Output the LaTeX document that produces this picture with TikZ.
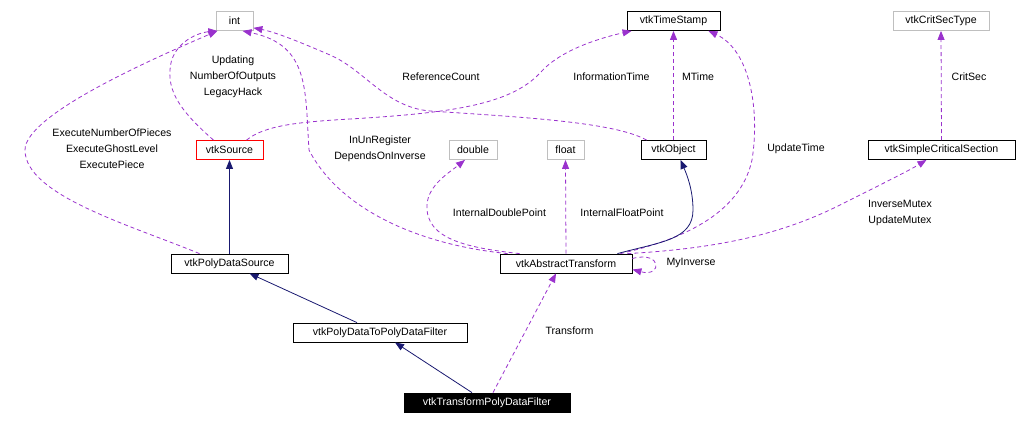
\documentclass[tikz,border=0pt]{standalone}
\usepackage{fontspec}
\setmainfont{Liberation Sans}
\usetikzlibrary{arrows.meta,positioning}
\definecolor{relpurple}{HTML}{9A32CD}
\definecolor{inhnavy}{HTML}{191970}
\definecolor{extgray}{HTML}{BFBFBF}
\begin{document}
\begin{tikzpicture}[x=1pt,y=-1pt,
  cls/.style={draw=black,line width=0.8pt,minimum height=19pt,inner sep=0pt,font=\fontsize{10.6}{16}\selectfont},
  ext/.style={cls,draw=extgray},
  lbl/.style={align=center,inner sep=0pt,font=\fontsize{10.6}{16}\selectfont},
  use/.style={-{Triangle[length=9pt,width=7pt]},relpurple,line width=0.8pt,dash pattern=on 4pt off 3pt},
  inh/.style={-{Triangle[length=9pt,width=7pt]},inhnavy,line width=0.8pt}]
\useasboundingbox (0,0) rectangle (1017,424);
\node[ext,minimum width=37pt] (int) at (234.5,21) {int};
\node[cls,minimum width=93pt] (vtkTimeStamp) at (673.5,21) {vtkTimeStamp};
\node[ext,minimum width=96pt] (vtkCritSecType) at (941,21) {vtkCritSecType};
\node[cls,draw=red,minimum width=67pt] (vtkSource) at (229.5,150) {vtkSource};
\node[ext,minimum width=48pt] (double) at (473,150) {double};
\node[ext,minimum width=37pt] (float) at (565.5,150) {float};
\node[cls,minimum width=65pt] (vtkObject) at (673.5,150) {vtkObject};
\node[cls,minimum width=147pt] (vtkSimpleCriticalSection) at (941.5,150) {vtkSimpleCriticalSection};
\node[cls,minimum width=117pt] (vtkPolyDataSource) at (229.5,263.5) {vtkPolyDataSource};
\node[cls,minimum width=132pt] (vtkAbstractTransform) at (566,263.5) {vtkAbstractTransform};
\node[cls,minimum width=174pt] (vtkPolyDataToPolyDataFilter) at (380,332.5) {vtkPolyDataToPolyDataFilter};
\node[cls,fill=black,text=white,minimum width=166pt] (vtkTransformPolyDataFilter) at (487,402.5) {vtkTransformPolyDataFilter};
\node[lbl] (lblUpdating) at (233,77) {Updating\\NumberOfOutputs\\LegacyHack};
\node[lbl] (lblExecute) at (112,149) {ExecuteNumberOfPieces\\ExecuteGhostLevel\\ExecutePiece};
\node[lbl] (lblRefCount) at (441,77) {ReferenceCount};
\node[lbl] (lblInfoTime) at (611.5,77) {InformationTime};
\node[lbl] (lblMTime) at (698,77) {MTime};
\node[lbl] (lblCritSec) at (969,77) {CritSec};
\node[lbl] (lblRegister) at (380,149) {InUnRegister\\DependsOnInverse};
\node[lbl] (lblUpdateTime) at (796,149) {UpdateTime};
\node[lbl] (lblDoublePt) at (499.5,213) {InternalDoublePoint};
\node[lbl] (lblFloatPt) at (622,213) {InternalFloatPoint};
\node[lbl] (lblMutex) at (900,213) {InverseMutex\\UpdateMutex};
\node[lbl] (lblMyInverse) at (691,263) {MyInverse};
\node[lbl] (lblTransform) at (569.5,331) {Transform};
\draw[use] ([xshift=-16pt]vtkSource.north) .. controls (185,115) and (168,95) .. (170,70) .. controls (171,45) and (195,33) .. (int.-150);
\draw[use] ([xshift=-30pt]vtkPolyDataSource.north) .. controls (130,225) and (25,195) .. (25,150) .. controls (25,115) and (150,60) .. (int.-150);
\draw[use] ([xshift=8pt]vtkAbstractTransform.north west) .. controls (420,245) and (340,210) .. (309,150) .. controls (305,90) and (310,45) .. ([xshift=8pt]int.south);
\draw[use] ([xshift=6pt]vtkObject.north west) .. controls (615,122) and (520,117) .. (430,111) .. controls (385,107) and (365,70) .. (330,55) .. controls (300,42) and (275,32) .. (int.-20);
\draw[use] ([xshift=17pt]vtkSource.north) .. controls (265,125) and (300,122) .. (350,119) .. controls (450,113) and (510,105) .. (540,73) .. controls (560,50) and (600,38) .. ([xshift=5pt]vtkTimeStamp.south west);
\draw[use] (vtkObject.north) -- (vtkTimeStamp.south);
\draw[use] ([xshift=-12pt]vtkAbstractTransform.north east) .. controls (680,240) and (740,215) .. (752,160) .. controls (760,110) and (750,50) .. ([xshift=-12pt]vtkTimeStamp.south east);
\draw[use] ([xshift=-5pt]vtkAbstractTransform.north east) .. controls (730,248) and (790,230) .. (840,205) .. controls (880,185) and (910,170) .. ([xshift=-15pt]vtkSimpleCriticalSection.south);
\draw[use] (vtkSimpleCriticalSection.north) -- (vtkCritSecType.south);
\draw[use] ([xshift=20pt]vtkAbstractTransform.north west) .. controls (470,248) and (425,240) .. (427,205) .. controls (428,185) and (450,172) .. ([xshift=-8pt]double.south);
\draw[use] (vtkAbstractTransform.north) -- (float.south);
\draw[use] ([yshift=5pt]vtkAbstractTransform.east) .. controls +(30,-8) and +(30,8) .. ([yshift=-6pt]vtkAbstractTransform.east);
\draw[use] ([xshift=6pt]vtkTransformPolyDataFilter.north) -- ([xshift=-10pt]vtkAbstractTransform.south);
\draw[inh] ([xshift=-15pt]vtkAbstractTransform.north east) .. controls (660,242) and (693,240) .. (693,210) .. controls (693,190) and (687,175) .. ([xshift=7pt]vtkObject.south);
\draw[inh] (vtkPolyDataSource.north) -- (vtkSource.south);
\draw[inh] ([xshift=-23pt]vtkPolyDataToPolyDataFilter.north) -- ([xshift=20pt]vtkPolyDataSource.south);
\draw[inh] ([xshift=-15pt]vtkTransformPolyDataFilter.north) -- ([xshift=15pt]vtkPolyDataToPolyDataFilter.south);
\end{tikzpicture}
\end{document}
